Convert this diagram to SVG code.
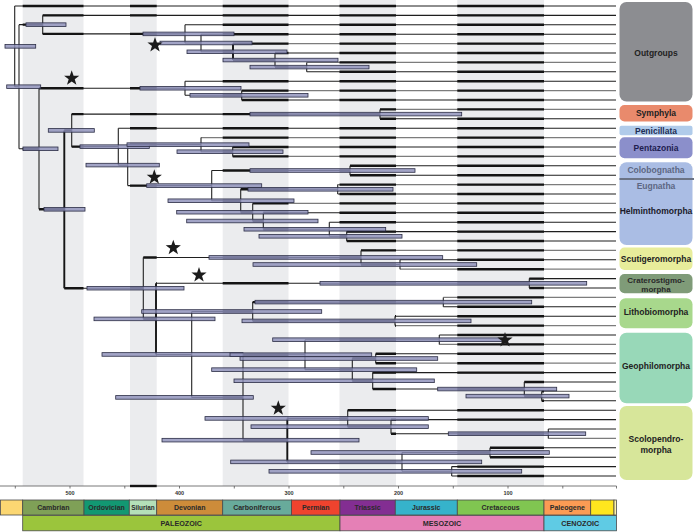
<svg xmlns="http://www.w3.org/2000/svg" xmlns:xlink="http://www.w3.org/1999/xlink" width="694" height="532" viewBox="0 0 694 532">
<style>
.band{fill:#ebecee}
.ci{fill:#8e90b9;fill-opacity:.82;stroke:#2b2d45;stroke-width:.8}
.star{fill:#1b1b1b}
.ts{stroke:#4a4a4a;stroke-width:.8}
.tt{font-family:"Liberation Sans",Arial,sans-serif;font-size:7px;font-weight:bold;fill:#2a2a2a;text-anchor:middle}
.tt2{font-family:"Liberation Sans",Arial,sans-serif;font-size:7.2px;font-weight:bold;fill:#2a2a2a;text-anchor:middle}
.ax{font-family:"Liberation Sans",Arial,sans-serif;font-size:5.5px;font-weight:bold;fill:#333;text-anchor:middle}
.cl{font-family:"Liberation Sans",Arial,sans-serif;font-size:8.5px;font-weight:bold;fill:#222;text-anchor:middle}
</style>
<defs>
<clipPath id="bandclip">
<rect x="22.7" y="0" width="60.8" height="486"/>
<rect x="130" y="0" width="26.7" height="486"/>
<rect x="222.7" y="0" width="65.8" height="486"/>
<rect x="339.5" y="0" width="56.5" height="486"/>
<rect x="457.3" y="0" width="86.7" height="486"/>
</clipPath>
<path id="star" d="M0 -8L1.88 -2.59L7.61 -2.47L3.04 0.99L4.7 6.47L0 3.2L-4.7 6.47L-3.04 0.99L-7.61 -2.47L-1.88 -2.59Z"/>
<g id="hl">
<path d="M14.7 6H616M42.7 15.4H616M185 24.8H616M201 34.2H616M275 53H616M306.7 71.8H616M185 81.2H616M241.7 100H616M380 118.8H616M118.3 128.2H616M232.7 147H616M350 165.8H616M350 175.2H616M337.7 194H616M263.3 212.8H616M329.3 222.2H616M346.7 231.6H616M346.7 241H616M400 259.8H616M529.3 278.6H616M529.3 288H616M443.3 306.8H616M395 316.2H616M439.3 335H616M375.7 353.8H616M372.7 372.6H616M524.3 382H616M541.7 400.8H616M347.7 410.2H616M391 419.6H616M548.3 429H616M490 447.8H616M490 457.2H616M451.7 466.6H616M451.7 476H616"/>
<path d="M14.7 86.7H19M19 24.65H42.7M42.7 33.9H185M185 43H201M201 51.8H233M233 60.05H275M275 67.1H306.7M19 148.8H39M39 88.25H185M185 95.3H241.7M39 209.3H64.3M64.3 130.4H71.7M71.7 114.1H380M71.7 146.65H118.3M118.3 165.1H127.7M127.7 144.65H201M201 151.7H232.7M127.7 185.6H211.7M211.7 170.5H350M211.7 200.75H240.7M240.7 189.3H337.7M240.7 212.2H252.7M252.7 221H263.3M263.3 229.25H329.3M329.3 236.3H346.7M64.3 288.2H143.3M143.3 257.45H361M361 264.5H400M143.3 318.9H156M156 283.3H529.3M156 354.45H191.7M191.7 311.5H252.7M252.7 302.1H443.3M252.7 320.9H395M191.7 397.4H243M243 354.7H305M305 339.7H439.3M305 369.65H352.3M352.3 358.5H375.7M352.3 380.8H372.7M372.7 389.05H524.3M524.3 396.1H541.7M243 440.15H287.3M287.3 418.4H347.7M347.7 426.65H391M391 433.7H548.3M287.3 461.9H402M402 452.5H490M402 471.3H451.7"/>
</g>
<path id="hlg" d="M233 43.6H616M306.7 62.4H616M241.7 90.6H616M380 109.4H616M201 137.6H616M232.7 156.4H616M337.7 184.6H616M252.7 203.4H616M361 250.4H616M400 269.2H616M443.3 297.4H616M395 325.6H616M439.3 344.4H616M375.7 363.2H616M541.7 391.4H616M548.3 438.4H616"/>
</defs>

<rect width="694" height="532" fill="#ffffff"/>

<g id="bands">
<rect class="band" x="22.7" y="0" width="60.8" height="486"/>
<rect class="band" x="130" y="0" width="26.7" height="486"/>
<rect class="band" x="222.7" y="0" width="65.8" height="486"/>
<rect class="band" x="339.5" y="0" width="56.5" height="486"/>
<rect class="band" x="457.3" y="0" width="86.7" height="486"/>
</g>

<g id="connectors" fill="none" stroke-linecap="butt">
<use xlink:href="#hl" href="#hl" stroke="#1f1f1f" stroke-width="1.1"/>
<use xlink:href="#hlg" href="#hlg" stroke="#7c7c7c" stroke-width="1.3"/>
<g clip-path="url(#bandclip)" stroke="#141414" stroke-width="2.4">
<use xlink:href="#hl" href="#hl"/>
<use xlink:href="#hlg" href="#hlg"/>
</g>
<path stroke="#222" stroke-width="1.1" d="M14.7 6V86.7M19 24.65V148.8M42.7 15.4V33.9M185 24.8V43M201 34.2V51.8M275 53V67.1M306.7 62.4V71.8M39 88.25V209.3M185 81.2V95.3M241.7 90.6V100M71.7 114.1V146.65M380 109.4V118.8M118.3 128.2V165.1M127.7 144.65V185.6M201 137.6V151.7M232.7 147V156.4M211.7 170.5V200.75M350 165.8V175.2M240.7 189.3V212.2M337.7 184.6V194M252.7 203.4V221M263.3 212.8V229.25M329.3 222.2V236.3M346.7 231.6V241M143.3 257.45V318.9M361 250.4V264.5M400 259.8V269.2M529.3 278.6V288M191.7 311.5V397.4M252.7 302.1V320.9M443.3 297.4V306.8M395 316.2V325.6M243 354.7V440.15M305 339.7V369.65M439.3 335V344.4M352.3 358.5V380.8M375.7 353.8V363.2M372.7 372.6V389.05M524.3 382V396.1M541.7 391.4V400.8M347.7 410.2V426.65M391 419.6V433.7M548.3 429V438.4M402 452.5V471.3M490 447.8V457.2M451.7 466.6V476"/>
<path stroke="#151515" stroke-width="1.9" d="M64.3 130.4V288.2M156 283.3V354.45M287.3 418.4V461.9M233 43.6V60.05"/>
</g>

<g id="node-bars">
<rect class="ci" x="5" y="44.55" width="30.7" height="3.6"/>
<rect class="ci" x="6.7" y="84.9" width="34" height="3.6"/>
<rect class="ci" x="26" y="22.85" width="40" height="3.6"/>
<rect class="ci" x="143" y="32.1" width="91" height="3.6"/>
<rect class="ci" x="160" y="41.2" width="92" height="3.6"/>
<rect class="ci" x="187" y="50" width="100" height="3.6"/>
<rect class="ci" x="223" y="58.25" width="115" height="3.6"/>
<rect class="ci" x="250" y="65.3" width="119" height="3.6"/>
<rect class="ci" x="23" y="147" width="35" height="3.6"/>
<rect class="ci" x="140" y="86.45" width="101" height="3.6"/>
<rect class="ci" x="190" y="93.5" width="118" height="3.6"/>
<rect class="ci" x="44" y="207.5" width="41" height="3.6"/>
<rect class="ci" x="48.3" y="128.6" width="46" height="3.6"/>
<rect class="ci" x="250" y="112.3" width="211.7" height="3.6"/>
<rect class="ci" x="80" y="144.85" width="69.3" height="3.6"/>
<rect class="ci" x="86" y="163.3" width="73.3" height="3.6"/>
<rect class="ci" x="127" y="142.85" width="122" height="3.6"/>
<rect class="ci" x="177" y="149.9" width="106" height="3.6"/>
<rect class="ci" x="146.7" y="183.8" width="115" height="3.6"/>
<rect class="ci" x="250" y="168.7" width="165" height="3.6"/>
<rect class="ci" x="168" y="198.95" width="126" height="3.6"/>
<rect class="ci" x="248" y="187.5" width="145" height="3.6"/>
<rect class="ci" x="176.7" y="210.4" width="131.3" height="3.6"/>
<rect class="ci" x="186.7" y="219.2" width="131.3" height="3.6"/>
<rect class="ci" x="244" y="227.45" width="141.7" height="3.6"/>
<rect class="ci" x="259" y="234.5" width="143" height="3.6"/>
<rect class="ci" x="87" y="286.4" width="97" height="3.6"/>
<rect class="ci" x="209" y="255.65" width="233.7" height="3.6"/>
<rect class="ci" x="253" y="262.7" width="223.7" height="3.6"/>
<rect class="ci" x="94" y="317.1" width="121" height="3.6"/>
<rect class="ci" x="320" y="281.5" width="266.7" height="3.6"/>
<rect class="ci" x="102" y="352.65" width="141" height="3.6"/>
<rect class="ci" x="141.7" y="309.7" width="180" height="3.6"/>
<rect class="ci" x="255" y="300.3" width="276.7" height="3.6"/>
<rect class="ci" x="242" y="319.1" width="229" height="3.6"/>
<rect class="ci" x="115.7" y="395.6" width="137.6" height="3.6"/>
<rect class="ci" x="230" y="352.9" width="141.7" height="3.6"/>
<rect class="ci" x="272.7" y="337.9" width="232.3" height="3.6"/>
<rect class="ci" x="211.7" y="367.85" width="205" height="3.6"/>
<rect class="ci" x="240" y="356.7" width="197.7" height="3.6"/>
<rect class="ci" x="234" y="379" width="200.3" height="3.6"/>
<rect class="ci" x="437.7" y="387.25" width="119" height="3.6"/>
<rect class="ci" x="466" y="394.3" width="103" height="3.6"/>
<rect class="ci" x="162" y="438.35" width="197" height="3.6"/>
<rect class="ci" x="205" y="416.6" width="223.3" height="3.6"/>
<rect class="ci" x="251" y="424.85" width="177.3" height="3.6"/>
<rect class="ci" x="448.3" y="431.9" width="137.4" height="3.6"/>
<rect class="ci" x="230.7" y="460.1" width="251" height="3.6"/>
<rect class="ci" x="311" y="450.7" width="238.3" height="3.6"/>
<rect class="ci" x="269" y="469.5" width="252.7" height="3.6"/>
</g>

<g id="stars">
<use xlink:href="#star" href="#star" class="star" x="155" y="45"/>
<use xlink:href="#star" href="#star" class="star" x="71.7" y="78.3"/>
<use xlink:href="#star" href="#star" class="star" x="154.3" y="177.3"/>
<use xlink:href="#star" href="#star" class="star" x="173.3" y="247.7"/>
<use xlink:href="#star" href="#star" class="star" x="199" y="275"/>
<use xlink:href="#star" href="#star" class="star" x="505" y="340"/>
<use xlink:href="#star" href="#star" class="star" x="278.3" y="408.3"/>
</g>

<g id="axis">
<path d="M0 486H616.5M15.3 486V488.5M70 486V488.5M124.8 486V488.5M179.5 486V488.5M234.3 486V488.5M289 486V488.5M343.8 486V488.5M398.5 486V488.5M453.3 486V488.5M508 486V488.5M562.8 486V488.5M616.5 486V488.5" stroke="#555" stroke-width="0.8" fill="none"/>
<path d="M130 486H156.7" stroke="#141414" stroke-width="2.4"/>
<text class="ax" x="70" y="495">500</text>
<text class="ax" x="179.5" y="495">400</text>
<text class="ax" x="289" y="495">300</text>
<text class="ax" x="398.5" y="495">200</text>
<text class="ax" x="508" y="495">100</text>
</g>

<g id="timescale">
<rect class="ts" x="0.4" y="500" width="22.3" height="15" fill="#fcd772"/>
<rect class="ts" x="22.7" y="500" width="61.3" height="15" fill="#7fa057"/>
<rect class="ts" x="84" y="500" width="45.3" height="15" fill="#129872"/>
<rect class="ts" x="129.3" y="500" width="27.4" height="15" fill="#b4e0b8"/>
<rect class="ts" x="156.7" y="500" width="66" height="15" fill="#cd8c3a"/>
<rect class="ts" x="222.7" y="500" width="68.8" height="15" fill="#68ab9b"/>
<rect class="ts" x="291.5" y="500" width="48.5" height="15" fill="#ef432e"/>
<rect class="ts" x="340" y="500" width="55.3" height="15" fill="#832e92"/>
<rect class="ts" x="395.3" y="500" width="62" height="15" fill="#36b3cb"/>
<rect class="ts" x="457.3" y="500" width="86.7" height="15" fill="#80c651"/>
<rect class="ts" x="544" y="500" width="46.7" height="15" fill="#fc9b54"/>
<rect class="ts" x="590.7" y="500" width="23.3" height="15" fill="#ffe61e"/>
<rect class="ts" x="614" y="500" width="2.5" height="15" fill="#fff4a8"/>
<rect class="ts" x="22.7" y="515.5" width="317.3" height="15.3" fill="#9bc53c"/>
<rect class="ts" x="340" y="515.5" width="204" height="15.3" fill="#e580b6"/>
<rect class="ts" x="544" y="515.5" width="72.5" height="15.3" fill="#5fcbe4"/>
<text class="tt" x="53.3" y="510.3">Cambrian</text>
<text class="tt" x="106.6" y="510.3">Ordovician</text>
<text class="tt" x="143" y="510.3" style="font-size:6.4px">Silurian</text>
<text class="tt" x="189.7" y="510.3">Devonian</text>
<text class="tt" x="257.1" y="510.3">Carboniferous</text>
<text class="tt" x="315.7" y="510.3">Permian</text>
<text class="tt" x="367.6" y="510.3">Triassic</text>
<text class="tt" x="426.3" y="510.3">Jurassic</text>
<text class="tt" x="500.6" y="510.3">Cretaceous</text>
<text class="tt" x="567.3" y="510.3">Paleogene</text>
<text class="tt2" x="181.3" y="526">PALEOZOIC</text>
<text class="tt2" x="442" y="526">MESOZOIC</text>
<text class="tt2" x="580.2" y="526">CENOZOIC</text>
</g>

<g id="clade-outgroups">
<rect x="619.5" y="2" width="73" height="99.5" rx="7" fill="#8c8d91"/>
<text class="cl" x="656" y="56">Outgroups</text>
</g>
<g id="clade-symphyla">
<rect x="619.5" y="105" width="73" height="16.5" rx="5" fill="#e98a6c"/>
<text class="cl" x="656" y="116.3" fill="#3a2a22">Symphyla</text>
</g>
<g id="clade-penicillata">
<rect x="619.5" y="125.7" width="73" height="9.5" rx="2" fill="#b0cbea"/>
<text class="cl" x="656" y="133.5" style="fill:#1e2e55">Penicillata</text>
</g>
<g id="clade-pentazonia">
<rect x="619.5" y="137.3" width="73" height="21" rx="5" fill="#8b8fcb"/>
<text class="cl" x="656" y="150.8" style="fill:#1e2050">Pentazonia</text>
</g>
<g id="clade-helminthomorpha">
<rect x="619.5" y="162.3" width="73" height="82.7" rx="7" fill="#aabde4"/>
<path d="M619.5 179H694" stroke="#6b7385" stroke-width="2"/>
<text class="cl" x="656" y="173.3" style="fill:#5d6783">Colobognatha</text>
<text class="cl" x="656" y="188.5" style="fill:#5d6783">Eugnatha</text>
<text class="cl" x="656" y="213.5" style="fill:#1a1a2a">Helminthomorpha</text>
</g>
<g id="clade-scutigeromorpha">
<rect x="619.5" y="247.5" width="73" height="22.5" rx="5" fill="#e8ed9b"/>
<text class="cl" x="656" y="262">Scutigeromorpha</text>
</g>
<g id="clade-craterostigmomorpha">
<rect x="619.5" y="274" width="73" height="19.3" rx="5" fill="#7f9b78"/>
<text class="cl" x="656" y="282.6" style="font-size:8px;fill:#2a2a2a">Craterostigmo-</text>
<text class="cl" x="656" y="292" style="font-size:8px;fill:#2a2a2a">morpha</text>
</g>
<g id="clade-lithobiomorpha">
<rect x="619.5" y="298.3" width="73" height="30" rx="6" fill="#a8d88c"/>
<text class="cl" x="656" y="314.5">Lithobiomorpha</text>
</g>
<g id="clade-geophilomorpha">
<rect x="619.5" y="332.7" width="73" height="70.6" rx="7" fill="#98d8b8"/>
<text class="cl" x="656" y="368.5">Geophilomorpha</text>
</g>
<g id="clade-scolopendromorpha">
<rect x="619.5" y="406" width="73" height="74" rx="7" fill="#d7e69a"/>
<text class="cl" x="656" y="442">Scolopendro-</text>
<text class="cl" x="656" y="452.5">morpha</text>
</g>
</svg>
